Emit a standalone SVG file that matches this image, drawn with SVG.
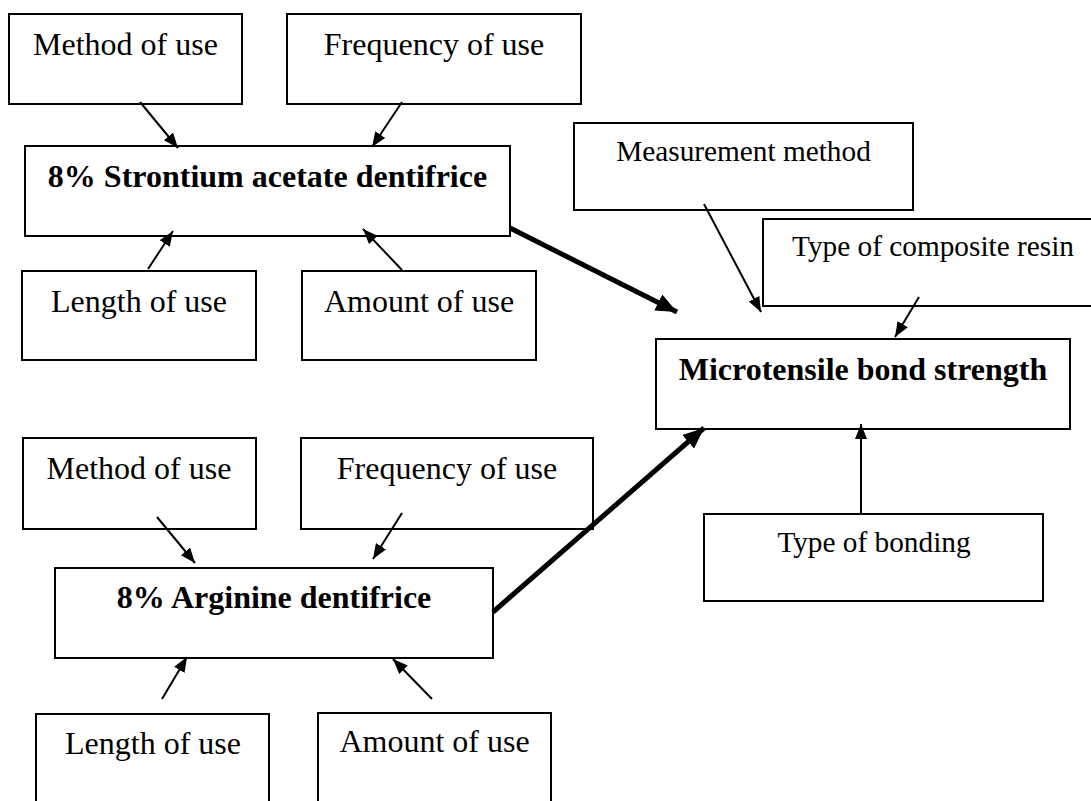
<svg xmlns="http://www.w3.org/2000/svg" width="1091" height="801" viewBox="0 0 1091 801">
<style>
.box{fill:#fff;stroke:#000;stroke-width:2}
.t{font-family:"Liberation Serif","Times New Roman",serif;font-size:32px;fill:#000;text-anchor:middle}
.s{font-size:29.3px}
.b{font-weight:bold}
.thin{stroke:#000;stroke-width:2;fill:none}
.thick{stroke:#000;stroke-width:5;fill:none}
</style>
<defs>
<marker id="ah" markerUnits="userSpaceOnUse" markerWidth="16" markerHeight="12" refX="15" refY="6" orient="auto">
<path d="M0,0 L15,6 L0,12 z" fill="#000"/>
</marker>
<marker id="ahb" markerUnits="userSpaceOnUse" markerWidth="22" markerHeight="18" refX="21" refY="9" orient="auto">
<path d="M0,0 L21,9 L0,18 z" fill="#000"/>
</marker>
</defs>
<rect width="1091" height="801" fill="#fff"/>

<g id="n-method1"><rect class="box" x="9" y="14" width="233" height="90"/><text class="t" x="125.5" y="55">Method of use</text></g>
<g id="n-freq1"><rect class="box" x="287" y="14" width="294" height="90"/><text class="t" x="434" y="55">Frequency of use</text></g>
<g id="n-strontium"><rect class="box" x="25" y="146" width="485" height="90"/><text class="t b" x="267.5" y="187">8% Strontium acetate dentifrice</text></g>
<g id="n-length1"><rect class="box" x="22" y="271" width="234" height="89"/><text class="t" x="139" y="312">Length of use</text></g>
<g id="n-amount1"><rect class="box" x="302" y="271" width="234" height="89"/><text class="t" x="419" y="312">Amount of use</text></g>

<g id="n-measure"><rect class="box" x="574" y="123" width="339" height="87"/><text class="t s" x="743.5" y="161">Measurement method</text></g>
<g id="n-composite"><rect class="box" x="763" y="219" width="340" height="87"/><text class="t s" x="933" y="256">Type of composite resin</text></g>
<g id="n-micro"><rect class="box" x="656" y="339" width="414" height="90"/><text class="t b" x="863" y="380">Microtensile bond strength</text></g>
<g id="n-bonding"><rect class="box" x="704" y="514" width="339" height="87"/><text class="t s" x="874" y="552">Type of bonding</text></g>

<g id="n-method2"><rect class="box" x="23" y="438" width="233" height="91"/><text class="t" x="139" y="479">Method of use</text></g>
<g id="n-freq2"><rect class="box" x="301" y="438" width="292" height="91"/><text class="t" x="447" y="479">Frequency of use</text></g>
<g id="n-arginine"><rect class="box" x="55" y="568" width="438" height="90"/><text class="t b" x="274" y="608">8% Arginine dentifrice</text></g>
<g id="n-length2"><rect class="box" x="36" y="714" width="233" height="100"/><text class="t" x="153" y="754">Length of use</text></g>
<g id="n-amount2"><rect class="box" x="318" y="713" width="233" height="100"/><text class="t" x="434.5" y="752">Amount of use</text></g>

<g id="connectors">
<line class="thin" x1="140" y1="102" x2="178" y2="148" marker-end="url(#ah)"/>
<line class="thin" x1="402" y1="102" x2="372" y2="147" marker-end="url(#ah)"/>
<line class="thin" x1="148" y1="269" x2="173" y2="231" marker-end="url(#ah)"/>
<line class="thin" x1="402" y1="270" x2="363" y2="229" marker-end="url(#ah)"/>
<line class="thick" x1="510" y1="228" x2="677" y2="312" marker-end="url(#ahb)"/>
<line class="thin" x1="704" y1="204" x2="761" y2="312" marker-end="url(#ah)"/>
<line class="thin" x1="919" y1="297" x2="895" y2="337" marker-end="url(#ah)"/>
<line class="thin" x1="861" y1="514" x2="861" y2="424" marker-end="url(#ah)"/>
<line class="thick" x1="493" y1="612" x2="704" y2="428" marker-end="url(#ahb)"/>
<line class="thin" x1="157" y1="517" x2="195" y2="563" marker-end="url(#ah)"/>
<line class="thin" x1="402" y1="513" x2="373" y2="559" marker-end="url(#ah)"/>
<line class="thin" x1="162" y1="699" x2="187" y2="657" marker-end="url(#ah)"/>
<line class="thin" x1="432" y1="699" x2="393" y2="659" marker-end="url(#ah)"/>
</g>
</svg>
